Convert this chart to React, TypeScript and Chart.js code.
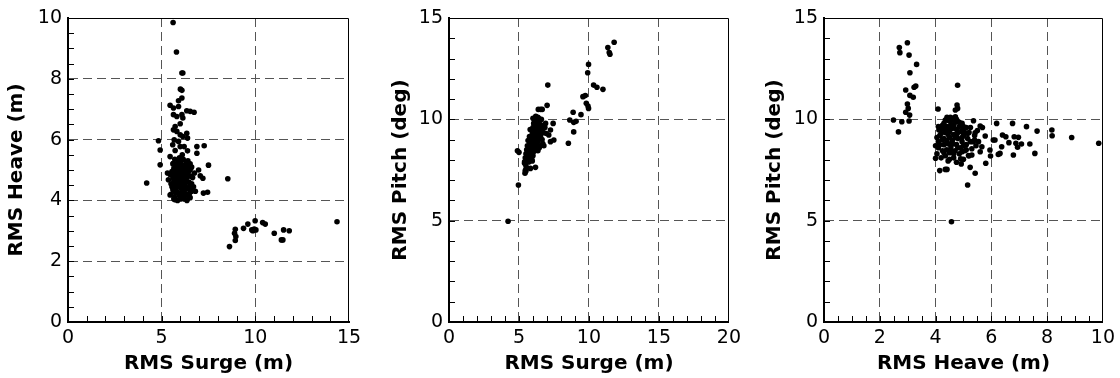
import React, { useEffect, useRef } from "react";
import { Chart, registerables } from "chart.js";

Chart.register(...registerables);

// ---------- Panel 1: RMS Surge (m) vs RMS Heave (m) ----------
const surgeHeaveSpread: [number, number][] = [
  [5.61, 9.85], [5.79, 8.88], [6.08, 8.19], [6.13, 8.19], [6.08, 7.62], [6.0, 7.66], [6.08, 7.37],
  [5.9, 7.28], [5.45, 7.13], [5.63, 7.04], [5.9, 7.09], [6.34, 6.95], [6.52, 6.93], [6.73, 6.9],
  [5.63, 6.82], [6.08, 6.82], [5.81, 6.76], [6.13, 6.71], [5.99, 6.52], [5.72, 6.43], [5.63, 6.32],
  [5.81, 6.27], [6.34, 6.21], [5.99, 6.16], [6.13, 6.1], [4.83, 5.96], [5.67, 5.99], [5.9, 5.94],
  [6.38, 6.05], [5.59, 5.83], [5.99, 5.77], [6.2, 5.77], [6.88, 5.77], [7.27, 5.8], [4.92, 5.66],
  [5.72, 5.64], [6.38, 5.63], [6.88, 5.55], [5.45, 5.44], [4.92, 5.17], [7.5, 5.16], [5.63, 5.22],
  [6.52, 5.2], [6.97, 5.0], [5.31, 4.9], [7.06, 4.81], [7.2, 4.73], [4.2, 4.57], [8.53, 4.71],
  [5.36, 4.68], [7.23, 4.24], [7.45, 4.27], [6.52, 4.09], [5.45, 4.18], [5.72, 4.02],
];
const surgeHeaveCluster: [number, number][] = [
  [5.5, 4.2], [5.6, 4.35], [5.65, 4.5], [5.7, 4.7], [5.75, 4.9], [5.8, 5.1], [5.55, 4.95], [5.6, 5.2],
  [5.7, 4.1], [5.8, 4.3], [5.85, 4.55], [5.9, 4.8], [5.95, 5.0], [5.9, 5.3], [6.0, 4.05], [6.0, 4.25],
  [6.05, 4.4], [6.1, 4.6], [6.0, 4.75], [6.1, 4.95], [6.05, 5.15], [6.15, 5.35], [6.2, 4.1], [6.2, 4.3],
  [6.25, 4.5], [6.2, 4.7], [6.3, 4.85], [6.25, 5.05], [6.3, 5.25], [6.35, 4.2], [6.4, 4.4], [6.45, 4.6],
  [6.4, 4.8], [6.5, 5.0], [6.45, 5.2], [6.55, 4.35], [6.6, 4.55], [6.65, 4.75], [6.7, 4.45], [6.8, 4.3],
  [5.65, 4.05], [5.75, 4.6], [5.85, 4.0], [5.95, 4.45], [6.15, 4.15], [6.3, 4.65], [6.35, 4.0], [6.5, 4.25],
  [5.6, 4.75], [6.05, 4.9], [6.2, 5.15], [5.8, 5.0], [5.5, 4.55], [5.45, 4.85], [5.95, 5.4], [6.4, 5.3],
  [6.6, 5.1], [6.75, 4.9], [5.7, 5.35], [6.1, 5.5],
  [5.55, 4.45], [5.65, 4.65], [5.75, 4.25], [5.85, 4.85], [5.95, 4.15], [6.0, 4.6], [6.1, 4.35], [6.15, 4.8],
  [6.25, 4.2], [6.3, 4.4], [6.35, 4.75], [6.45, 4.95], [6.5, 4.45], [6.55, 4.8], [6.6, 4.3], [5.9, 4.65],
  [6.05, 5.05], [6.15, 4.55], [6.25, 4.95], [5.7, 4.85], [5.65, 5.05], [6.4, 5.1], [6.55, 5.05], [5.85, 5.2],
  [6.0, 5.25], [5.8, 4.45], [6.1, 4.25], [6.2, 4.05], [6.05, 4.1], [6.45, 4.15],
];
const surgeHeaveLow: [number, number][] = [
  [8.62, 2.48], [8.93, 2.68], [8.96, 2.81], [8.89, 2.92], [8.93, 3.05], [9.37, 3.08], [9.6, 3.22],
  [9.81, 3.03], [9.94, 3.06], [9.99, 3.33], [10.03, 3.03], [10.39, 3.27], [10.53, 3.22], [11.01, 2.92],
  [11.39, 2.7], [11.47, 2.7], [11.51, 3.03], [11.81, 3.0], [14.36, 3.3], [9.87, 3.0],
];

// ---------- Panel 2: RMS Surge (m) vs RMS Pitch (deg) ----------
const surgePitchSpread: [number, number][] = [
  [4.22, 4.97], [4.96, 6.76], [4.89, 8.45], [5.0, 8.37], [5.4, 7.83], [5.43, 7.34], [5.47, 7.5],
  [5.82, 7.58], [6.18, 7.63], [7.06, 11.69], [7.01, 10.69], [6.38, 10.49], [6.55, 10.49], [6.66, 10.49],
  [6.9, 9.8], [7.25, 9.47], [7.44, 9.8], [7.13, 9.23], [7.25, 8.9], [7.49, 8.98], [6.78, 8.7],
  [8.53, 8.82], [8.63, 9.97], [8.87, 10.35], [8.91, 9.85], [8.91, 9.38], [9.08, 9.9], [9.43, 10.23],
  [9.57, 11.12], [9.74, 11.17], [9.81, 10.79], [9.93, 10.66], [9.97, 10.54], [9.97, 12.71], [9.91, 12.3],
  [10.33, 11.69], [10.57, 11.58], [11.0, 11.48], [11.35, 13.54], [11.45, 13.3], [11.5, 13.21], [11.8, 13.8],
  [6.85, 9.6], [6.95, 9.3], [5.5, 7.45],
];
const surgePitchCluster: [number, number][] = [
  [5.4, 7.9], [5.45, 8.1], [5.5, 8.3], [5.55, 8.5], [5.6, 8.7], [5.5, 7.7], [5.6, 8.0], [5.65, 8.2],
  [5.7, 8.4], [5.75, 8.6], [5.8, 8.8], [5.7, 7.9], [5.8, 8.15], [5.85, 8.35], [5.9, 8.55], [5.95, 8.75],
  [6.0, 8.95], [5.85, 9.0], [5.9, 9.2], [5.95, 9.4], [6.0, 9.6], [6.05, 9.8], [6.1, 10.0], [5.95, 7.95],
  [6.0, 8.2], [6.05, 8.4], [6.1, 8.6], [6.15, 8.8], [6.2, 9.0], [6.1, 9.15], [6.15, 9.35], [6.2, 9.55],
  [6.25, 9.75], [6.3, 9.95], [6.35, 10.1], [6.25, 8.5], [6.3, 8.7], [6.35, 8.9], [6.4, 9.1], [6.45, 9.3],
  [6.4, 9.5], [6.5, 9.7], [6.5, 9.95], [6.55, 9.2], [6.6, 9.45], [6.65, 9.0], [6.7, 9.7], [6.55, 8.7],
  [6.45, 8.6], [5.65, 8.95], [5.75, 9.15], [5.8, 9.5], [6.05, 9.05], [6.2, 10.15], [5.55, 7.6], [5.45, 7.45],
  [5.5, 7.95], [5.75, 8.05], [6.0, 8.45], [6.35, 8.45], [6.7, 8.8], [6.75, 9.35], [6.0, 10.05], [6.15, 9.9],
  [6.4, 9.8],
  [5.55, 8.25], [5.65, 8.45], [5.7, 8.7], [5.8, 8.95], [5.9, 8.05], [5.95, 8.6], [6.05, 8.8], [6.1, 9.3],
  [6.2, 9.25], [6.25, 9.05], [6.3, 9.45], [6.35, 9.65], [6.45, 9.9], [6.55, 9.65], [5.85, 8.5], [5.75, 8.3],
  [6.15, 9.65], [6.3, 8.95], [5.95, 9.15], [6.05, 9.5], [6.25, 10.0], [6.6, 10.0], [6.4, 10.05], [5.6, 8.45],
];

// ---------- Panel 3: RMS Heave (m) vs RMS Pitch (deg) ----------
const heavePitchSpread: [number, number][] = [
  [2.7, 13.54], [2.72, 13.29], [2.99, 13.78], [3.05, 13.17], [3.32, 12.71], [3.08, 12.3], [2.93, 11.45],
  [3.23, 11.58], [3.29, 11.64], [3.08, 11.18], [3.2, 11.09], [2.99, 10.76], [3.02, 10.54], [2.93, 10.35],
  [3.07, 10.21], [2.49, 9.97], [2.79, 9.88], [3.05, 9.92], [2.67, 9.38],
  [4.09, 10.51], [4.79, 11.68], [4.77, 10.71], [4.79, 10.54], [4.71, 10.46], [4.53, 10.1], [4.41, 10.1],
  [4.35, 9.97], [4.71, 10.13], [5.36, 9.93], [5.0, 9.64], [5.6, 9.67], [5.68, 9.6], [6.19, 9.8],
  [6.76, 9.8], [7.26, 9.64], [7.64, 9.42], [8.17, 9.47], [8.18, 9.19], [8.88, 9.1], [9.85, 8.82],
  [4.12, 9.47], [5.78, 9.18], [6.07, 8.98], [6.4, 9.23], [6.52, 9.14], [6.82, 9.14], [6.97, 9.11],
  [6.63, 8.85], [6.88, 8.82], [7.08, 8.78], [7.38, 8.78], [6.94, 8.62], [6.79, 8.24], [7.56, 8.32],
  [6.37, 8.65], [6.31, 8.32], [6.25, 8.27], [5.97, 8.19], [5.95, 8.49], [6.13, 8.98], [5.66, 8.65],
  [5.6, 8.4], [5.8, 7.83], [5.42, 7.34], [5.24, 7.63], [5.15, 6.76], [4.57, 4.95], [4.15, 7.47],
  [4.35, 7.53], [4.41, 7.53], [4.0, 8.08], [4.5, 8.03], [4.75, 7.88], [4.92, 7.8], [5.0, 8.03],
  [5.18, 8.21], [5.3, 8.24], [5.4, 8.98], [5.54, 8.9], [5.42, 9.34],
];
const heavePitchCluster: [number, number][] = [
  [4.05, 8.3], [4.1, 8.6], [4.1, 8.9], [4.15, 9.2], [4.2, 9.5], [4.2, 8.1], [4.25, 8.45], [4.3, 8.75],
  [4.3, 9.05], [4.35, 9.35], [4.4, 9.65], [4.35, 8.2], [4.4, 8.5], [4.45, 8.8], [4.5, 9.1], [4.5, 9.4],
  [4.55, 9.75], [4.5, 8.35], [4.55, 8.65], [4.6, 8.95], [4.65, 9.25], [4.6, 9.55], [4.7, 9.85], [4.65, 8.1],
  [4.7, 8.45], [4.75, 8.75], [4.8, 9.05], [4.8, 9.35], [4.85, 9.65], [4.85, 8.3], [4.9, 8.6], [4.95, 8.9],
  [5.0, 9.2], [5.0, 9.5], [5.05, 8.45], [5.1, 8.75], [5.15, 9.05], [5.2, 9.35], [5.25, 9.6], [5.2, 8.2],
  [5.3, 8.55], [5.35, 8.9], [5.4, 9.2], [5.5, 9.45], [4.45, 9.95], [4.3, 9.8], [4.0, 8.7], [4.6, 10.05],
  [4.25, 9.0], [4.75, 9.5], [4.95, 9.8], [5.1, 9.6], [4.9, 8.05], [4.45, 7.95], [5.45, 8.7],
  [4.15, 8.75], [4.2, 9.3], [4.25, 9.7], [4.3, 8.35], [4.4, 8.95], [4.45, 9.25], [4.5, 9.6], [4.55, 8.5],
  [4.6, 8.8], [4.65, 9.7], [4.7, 9.1], [4.75, 9.2], [4.8, 8.6], [4.9, 9.4], [4.95, 9.1], [5.0, 8.7],
  [5.05, 9.35], [5.1, 8.5], [5.15, 9.3], [4.35, 9.5], [4.55, 9.95], [4.85, 9.85], [4.65, 8.3], [4.95, 8.4],
  [5.25, 8.9], [4.1, 9.65], [4.05, 9.1], [4.75, 10.0],
];

const FONT = "'DejaVu Sans', 'Liberation Sans', Arial, sans-serif";

type PanelProps = {
  points: [number, number][];
  xTitle: string;
  yTitle: string;
  xMax: number;
  xStep: number;
  xMinor: number;
  yMax: number;
  yStep: number;
  yMinor: number;
  left: number;
  width: number;
  yAxisWidth: number;
  yTitlePad: number;
  rightPad: number;
};

const frameTicks = {
  id: "frameTicks",
  afterDatasetsDraw(chart: any, _args: any, opts: any) {
    const { ctx, chartArea: a, scales } = chart;
    const xs = scales.x;
    const ys = scales.y;
    ctx.save();
    ctx.strokeStyle = "#000";
    ctx.lineWidth = 1;
    ctx.beginPath();
    const nx = Math.round((xs.max - xs.min) / opts.xMinor);
    for (let i = 1; i < nx; i++) {
      const px = Math.round(xs.getPixelForValue(xs.min + i * opts.xMinor)) + 0.5;
      ctx.moveTo(px, a.bottom);
      ctx.lineTo(px, a.bottom - 6);
    }
    const ny = Math.round((ys.max - ys.min) / opts.yMinor);
    for (let i = 1; i < ny; i++) {
      const py = Math.round(ys.getPixelForValue(ys.min + i * opts.yMinor)) + 0.5;
      ctx.moveTo(a.left, py);
      ctx.lineTo(a.left + 6, py);
    }
    ctx.stroke();
    ctx.beginPath();
    ctx.moveTo(a.left, Math.round(a.top) + 0.5);
    ctx.lineTo(Math.round(a.right) - 0.5, Math.round(a.top) + 0.5);
    ctx.lineTo(Math.round(a.right) - 0.5, a.bottom);
    ctx.stroke();
    ctx.restore();
  },
};

function ScatterPanel(p: PanelProps) {
  const ref = useRef<HTMLCanvasElement | null>(null);
  useEffect(() => {
    if (!ref.current) return;
    const gridColor = (min: number, max: number) => (ctx: any) => {
      const v = ctx.tick ? ctx.tick.value : null;
      if (v === null || v <= min || v >= max) return "rgba(0,0,0,0)";
      return "#555";
    };
    const chart = new Chart(ref.current, {
      type: "scatter",
      data: {
        datasets: [
          {
            data: p.points.map(([x, y]) => ({ x, y })),
            backgroundColor: "#000",
            borderWidth: 0,
            pointRadius: 2.8,
            pointHoverRadius: 2.8,
          },
        ],
      },
      options: {
        animation: false,
        responsive: false,
        devicePixelRatio: 1,
        layout: { padding: { top: 18, right: p.rightPad, left: 0, bottom: 0 } },
        plugins: {
          legend: { display: false },
          tooltip: { enabled: false },
          frameTicks: { xMinor: p.xMinor, yMinor: p.yMinor },
        } as any,
        scales: {
          x: {
            type: "linear",
            position: "bottom",
            min: 0,
            max: p.xMax,
            afterFit: (s: any) => {
              s.height = 56;
            },
            ticks: {
              stepSize: p.xStep,
              color: "#000",
              padding: 5,
              maxRotation: 0,
              autoSkip: false,
              font: { family: FONT, size: 19 },
            },
            grid: { drawTicks: false, lineWidth: 1, color: gridColor(0, p.xMax) },
            border: { display: true, color: "#000", width: 2, dash: [9, 5] },
            title: {
              display: true,
              text: p.xTitle,
              color: "#000",
              font: { family: FONT, size: 20, weight: "bold" },
              padding: { top: 0, bottom: 2 },
            },
          },
          y: {
            type: "linear",
            position: "left",
            min: 0,
            max: p.yMax,
            afterFit: (s: any) => {
              s.width = p.yAxisWidth;
            },
            ticks: {
              stepSize: p.yStep,
              color: "#000",
              padding: 6,
              font: { family: FONT, size: 19 },
            },
            grid: { drawTicks: false, lineWidth: 1, color: gridColor(0, p.yMax) },
            border: { display: true, color: "#000", width: 2, dash: [9, 5] },
            title: {
              display: true,
              text: p.yTitle,
              color: "#000",
              font: { family: FONT, size: 20, weight: "bold" },
              padding: { top: p.yTitlePad, bottom: 0 },
            },
          },
        },
      } as any,
      plugins: [frameTicks as any],
    });
    return () => chart.destroy();
  }, []);
  return (
    <div style={{ position: "absolute", left: p.left, top: 0, width: p.width, height: 378 }}>
      <canvas ref={ref} width={p.width} height={378} style={{ display: "block" }} />
    </div>
  );
}

export default function App() {
  return (
    <div style={{ position: "absolute", left: 0, top: 0, width: 1120, height: 378, background: "#fff" }}>
      <ScatterPanel
        points={[...surgeHeaveSpread, ...surgeHeaveCluster, ...surgeHeaveLow]}
        xTitle="RMS Surge (m)"
        yTitle="RMS Heave (m)"
        xMax={15}
        xStep={5}
        xMinor={1}
        yMax={10}
        yStep={2}
        yMinor={0.5}
        left={0}
        width={373}
        yAxisWidth={68}
        yTitlePad={5}
        rightPad={24}
      />
      <ScatterPanel
        points={[...surgePitchSpread, ...surgePitchCluster]}
        xTitle="RMS Surge (m)"
        yTitle="RMS Pitch (deg)"
        xMax={20}
        xStep={5}
        xMinor={1}
        yMax={15}
        yStep={5}
        yMinor={1}
        left={373}
        width={373}
        yAxisWidth={76}
        yTitlePad={16}
        rightPad={15}
      />
      <ScatterPanel
        points={[...heavePitchSpread, ...heavePitchCluster]}
        xTitle="RMS Heave (m)"
        yTitle="RMS Pitch (deg)"
        xMax={10}
        xStep={2}
        xMinor={0.5}
        yMax={15}
        yStep={5}
        yMinor={1}
        left={746}
        width={374}
        yAxisWidth={78}
        yTitlePad={17}
        rightPad={15}
      />
    </div>
  );
}
